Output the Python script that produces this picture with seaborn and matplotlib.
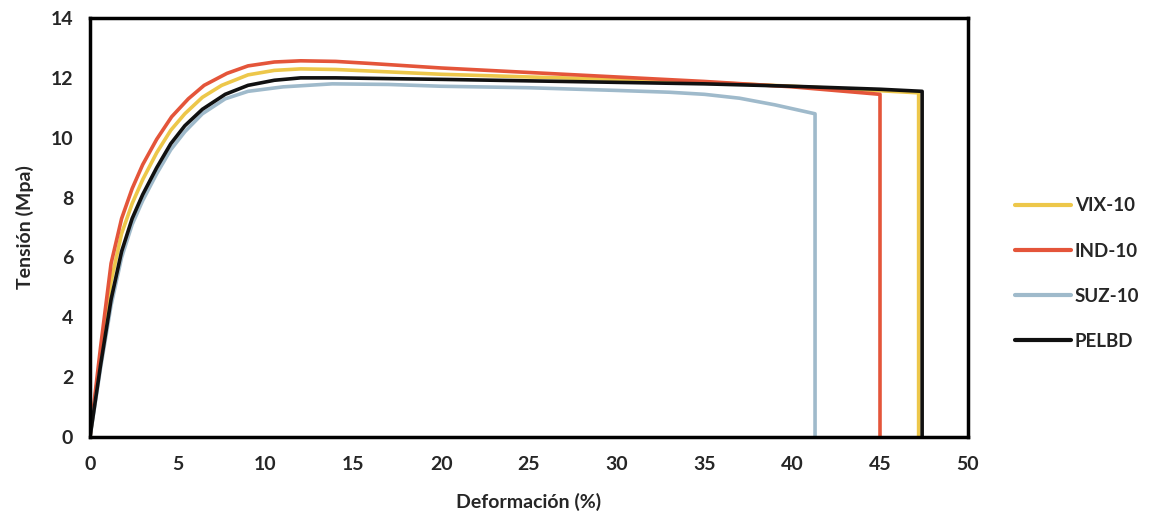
import matplotlib
matplotlib.use("Agg")
import matplotlib.pyplot as plt
import numpy as np
import pandas as pd
import seaborn as sns

# strain (%) and stress (MPa)
vix_x = [0, 0.6, 1.2, 1.8, 2.4, 3.0, 3.8, 4.6, 5.4, 6.4, 7.5, 9.0, 10.5, 12, 14, 20, 25, 30, 35, 40, 45, 47.2, 47.2]
vix_y = [0, 2.7, 5.2, 6.8, 7.8, 8.6, 9.5, 10.25, 10.8, 11.35, 11.75, 12.1, 12.25, 12.3, 12.28, 12.12, 12.03, 11.95, 11.85, 11.72, 11.57, 11.5, 0]

ind_x = [0, 0.6, 1.2, 1.8, 2.4, 3.0, 3.8, 4.65, 5.6, 6.5, 7.8, 9.0, 10.5, 12, 14, 16, 20, 25, 30, 35, 40, 45, 45]
ind_y = [0, 3.0, 5.8, 7.3, 8.3, 9.1, 9.95, 10.7, 11.3, 11.75, 12.15, 12.4, 12.53, 12.57, 12.55, 12.48, 12.33, 12.18, 12.03, 11.88, 11.7, 11.45, 0]

suz_x = [0, 0.6, 1.2, 1.8, 2.4, 3.0, 3.8, 4.6, 5.4, 6.4, 7.7, 9.0, 11, 13.8, 17, 20, 25, 30, 33, 35, 37, 39, 41.3, 41.3]
suz_y = [0, 2.3, 4.4, 6.0, 7.1, 7.9, 8.8, 9.6, 10.2, 10.8, 11.3, 11.55, 11.7, 11.8, 11.78, 11.72, 11.67, 11.58, 11.52, 11.45, 11.32, 11.1, 10.8, 0]

pel_x = [0, 0.6, 1.2, 1.8, 2.4, 3.0, 3.8, 4.6, 5.4, 6.4, 7.7, 9.0, 10.5, 12, 14, 20, 25, 30, 35, 40, 45, 47.4, 47.4]
pel_y = [0, 2.4, 4.6, 6.2, 7.3, 8.1, 9.0, 9.8, 10.4, 10.95, 11.45, 11.75, 11.92, 12.0, 12.0, 11.95, 11.9, 11.85, 11.8, 11.72, 11.62, 11.55, 0]

series = ["VIX-10", "IND-10", "SUZ-10", "PELBD"]
colors = ["#EDC74A", "#E4553A", "#9FBACB", "#111111"]

frames = []
for name, xs, ys in zip(series, [vix_x, ind_x, suz_x, pel_x], [vix_y, ind_y, suz_y, pel_y]):
    d = pd.DataFrame({"Deformación (%)": xs, "Tensión (Mpa)": ys})
    d["serie"] = name
    frames.append(d)
df = pd.concat(frames, ignore_index=True)

sns.set_style("white")
plt.rcParams["font.family"] = ["Lato", "DejaVu Sans"]

fig = plt.figure(figsize=(11.66, 5.25), dpi=100)
ax = fig.add_axes([0.0772, 0.1676, 0.7528, 0.7981])

sns.lineplot(data=df, x="Deformación (%)", y="Tensión (Mpa)", hue="serie",
             hue_order=series, palette=colors, sort=False, estimator=None,
             linewidth=2.6, solid_joinstyle="round", ax=ax)

ax.set_xlim(0, 50)
ax.set_ylim(0, 14)
ax.set_xticks(np.arange(0, 51, 5))
ax.set_yticks(np.arange(0, 15, 2))
for sp in ax.spines.values():
    sp.set_color("black")
    sp.set_linewidth(2.5)
ax.tick_params(length=0, labelsize=14)
ax.tick_params(axis="x", pad=14)
ax.tick_params(axis="y", pad=12)
for lab in ax.get_xticklabels() + ax.get_yticklabels():
    lab.set_fontweight("bold")
ax.set_xlabel("Deformación (%)", fontsize=14, fontweight="bold", labelpad=14)
ax.set_ylabel("Tensión (Mpa)", fontsize=14, fontweight="bold", labelpad=12)

leg = ax.legend(loc="center left", bbox_to_anchor=(1.045, 0.39), frameon=False,
                fontsize=13.5, handlelength=3.0, labelspacing=1.5, handletextpad=0.2,
                borderaxespad=0)
for t in leg.get_texts():
    t.set_fontweight("bold")
for h in leg.get_lines():
    h.set_linewidth(3)

fig.savefig("out.png", dpi=100)
